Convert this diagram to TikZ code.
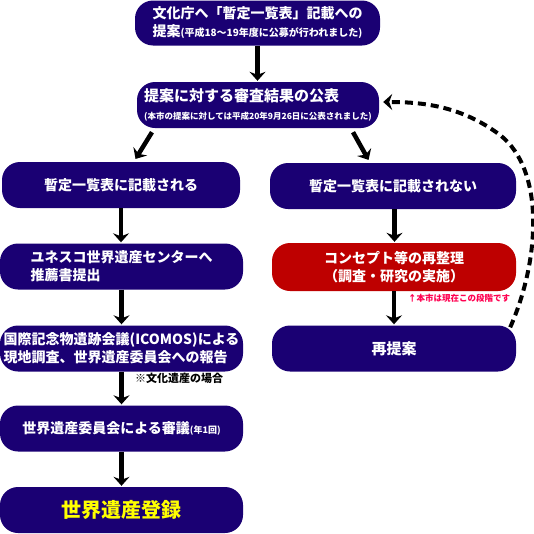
\documentclass[tikz,border=0pt]{standalone}
\usepackage{fontspec}
\setmainfont{Noto Sans CJK JP}
\usetikzlibrary{arrows.meta}
\definecolor{navy}{RGB}{26,0,115}
\definecolor{boxred}{RGB}{190,0,0}
\definecolor{notepink}{RGB}{255,0,80}
\definecolor{gold}{RGB}{255,255,0}
\begin{document}
\begin{tikzpicture}[x=1pt,y=-1pt,
  box/.style={fill=navy, rounded corners=18pt, text=white,
    font=\bfseries\fontsize{14}{18}\selectfont, align=left, inner sep=0pt,
    minimum height=46pt, minimum width=243pt},
  arr/.style={line width=4.5pt, -{Stealth[length=9pt,width=16pt,inset=3pt]}, shorten >=1pt},
  dasharr/.style={line width=4pt, dash pattern=on 8pt off 5pt,
    -{Stealth[length=9pt,width=16pt,inset=3pt]}},
  small/.style={font=\bfseries\fontsize{#1}{#1}\selectfont}
]
\useasboundingbox (0,0) rectangle (534,533);

\node[box, minimum width=245pt, minimum height=45pt] (k1) at (257.5,23)
  {文化庁へ「暫定一覧表」記載への\\提案{\fontsize{10}{12}\selectfont(平成18～19年度に公募が行われました)}};
\node[box, minimum width=242pt] (k2) at (258,105)
  {{\fontsize{15}{17}\selectfont 提案に対する審査結果の公表}\\{\fontsize{8.5}{10}\selectfont(本市の提案に対しては平成20年9月26日に公表されました)}};

\node[box, minimum width=238pt] (kA) at (121,185) {暫定一覧表に記載される};
\node[box, minimum width=246pt] (kB) at (393,186) {暫定一覧表に記載されない};

\node[box] (kC) at (121.5,266.5) {ユネスコ世界遺産センターへ\\推薦書提出};
\node[box] (kD) at (121.5,348.5) {国際記念物遺跡会議(ICOMOS)による\\現地調査、世界遺産委員会への報告};
\node[box] (kE) at (121.5,428.5) {世界遺産委員会による審議{\fontsize{9}{10}\selectfont(年1回)}};
\node[box, text=gold, font=\bfseries\fontsize{20}{22}\selectfont] (kF) at (121.5,510) {世界遺産登録};

\node[box, fill=boxred, minimum width=244pt, minimum height=48pt, align=center] (kG) at (394,267)
  {コンセプト等の再整理\\（調査・研究の実施）};
\node[box, minimum width=244pt, font=\bfseries\fontsize{15}{17}\selectfont] (kH) at (394,348.5) {再提案};

\node[small=8.5, text=notepink, anchor=west, inner sep=0pt] (note) at (408,298) {↑本市は現在この段階です};
\node[small=11, anchor=west, inner sep=0pt] (bunka) at (135,378) {※文化遺産の場合};

\draw[arr] (k1.south) -- (k1.south |- k2.north);
\draw[arr] ([shift={(-106,4)}]k2.south) -- ([shift={(14,-2)}]kA.north);
\draw[arr] ([shift={(95,4)}]k2.south) -- ([shift={(-24,-2)}]kB.north);
\draw[arr] (kA.south) -- (kA.south |- kC.north);
\draw[arr] (kC.south) -- (kC.south |- kD.north);
\draw[arr] (kD.south) -- (kD.south |- kE.north);
\draw[arr] (kE.south) -- (kE.south |- kF.north);
\draw[arr] ([xshift=1.5pt]kB.south) -- ([xshift=1.5pt]kB.south |- kG.north);
\draw[arr] (kG.south) -- (kG.south |- kH.north);

\draw[dasharr] ([shift={(-6,2)}]kH.north east)
  .. controls (540,260) and (545,170) .. (500,135)
  .. controls (460,105) and (420,102) .. ([shift={(4,-3)}]k2.east);
\end{tikzpicture}
\end{document}
